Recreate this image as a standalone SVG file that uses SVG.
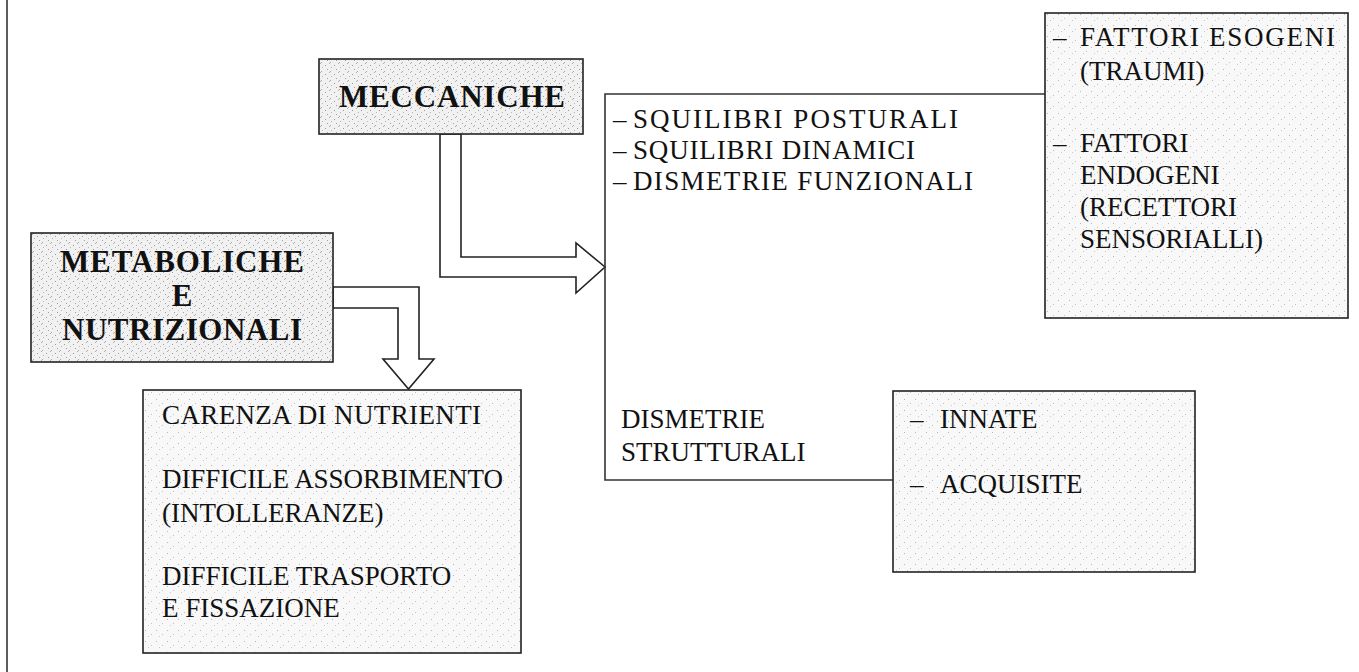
<svg xmlns="http://www.w3.org/2000/svg" width="1359" height="672" viewBox="0 0 1359 672">
<defs>
<pattern id="stipA" width="9" height="9" patternUnits="userSpaceOnUse">
<rect width="9" height="9" fill="#f1f1f1"/>
<rect x="1" y="2" width="1" height="1" fill="#9a9a9a"/>
<rect x="5" y="0" width="1" height="1" fill="#b0b0b0"/>
<rect x="3" y="6" width="1" height="1" fill="#a0a0a0"/>
<rect x="7" y="4" width="1" height="1" fill="#b8b8b8"/>
<rect x="6" y="8" width="1" height="1" fill="#a8a8a8"/>
</pattern>
<pattern id="stipB" width="11" height="11" patternUnits="userSpaceOnUse">
<rect width="11" height="11" fill="#f8f8f8"/>
<rect x="2" y="3" width="1" height="1" fill="#b5b5b5"/>
<rect x="8" y="7" width="1" height="1" fill="#c0c0c0"/>
<rect x="5" y="9" width="1" height="1" fill="#c8c8c8"/>
</pattern>
<style>
.box{stroke:#222;stroke-width:1.6}
.a{fill:url(#stipA)}
.b{fill:url(#stipB)}
.ln{fill:none;stroke:#333;stroke-width:1.6}
.arr{fill:#fff;stroke:#222;stroke-width:1.6;stroke-linejoin:miter}
.t{font-size:27px;fill:#111}
.h{font-size:31px;font-weight:bold;fill:#111;text-anchor:middle}
</style>
</defs>
<rect width="1359" height="672" fill="#fff"/>
<line x1="7" y1="0" x2="7" y2="672" stroke="#333" stroke-width="1.6"/>

<g id="connectors">
<polygon class="arr" points="440,134 440,277 576,277 576,293 605,267 576,243 576,257 461,257 461,134"/>
<polygon class="arr" points="333,287 419,287 419,359 434,359 408.5,389 383,359 398,359 398,308 333,308"/>
<polyline class="ln" points="1045,94 605,94 605,480 893,480"/>
</g>

<g font-family="Liberation Serif, Times New Roman, serif">
<g id="meccaniche">
<rect class="box a" x="319" y="59" width="264" height="75"/>
<text class="h" x="452" y="107" textLength="226">MECCANICHE</text>
</g>

<g id="metaboliche">
<rect class="box a" x="31" y="233" width="302" height="129"/>
<text class="h" x="182" y="272" textLength="244">METABOLICHE</text>
<text class="h" x="182" y="306">E</text>
<text class="h" x="182" y="340" textLength="240">NUTRIZIONALI</text>
</g>

<g id="nutrienti">
<rect class="box b" x="143" y="390" width="378" height="263"/>
<text class="t" x="162" y="424" textLength="319">CARENZA DI NUTRIENTI</text>
<text class="t" x="162" y="488" textLength="341">DIFFICILE ASSORBIMENTO</text>
<text class="t" x="162" y="522">(INTOLLERANZE)</text>
<text class="t" x="162" y="585">DIFFICILE TRASPORTO</text>
<text class="t" x="162" y="617">E FISSAZIONE</text>
</g>

<g id="squilibri">
<text class="t" x="613" y="128">–</text>
<text class="t" x="633" y="128" textLength="325">SQUILIBRI POSTURALI</text>
<text class="t" x="613" y="159">–</text>
<text class="t" x="633" y="159" textLength="282">SQUILIBRI DINAMICI</text>
<text class="t" x="613" y="190">–</text>
<text class="t" x="633" y="190" textLength="340">DISMETRIE FUNZIONALI</text>
<text class="t" x="621" y="428">DISMETRIE</text>
<text class="t" x="621" y="461">STRUTTURALI</text>
</g>

<g id="fattori">
<rect class="box b" x="1045" y="13" width="303" height="305"/>
<text class="t" x="1053" y="46">–</text>
<text class="t" x="1080" y="46" textLength="255">FATTORI ESOGENI</text>
<text class="t" x="1080" y="80">(TRAUMI)</text>
<text class="t" x="1053" y="152">–</text>
<text class="t" x="1080" y="152">FATTORI</text>
<text class="t" x="1080" y="184">ENDOGENI</text>
<text class="t" x="1080" y="216">(RECETTORI</text>
<text class="t" x="1080" y="248">SENSORIALLI)</text>
</g>

<g id="innate">
<rect class="box b" x="893" y="391" width="302" height="181"/>
<text class="t" x="910" y="428">–</text>
<text class="t" x="940" y="428">INNATE</text>
<text class="t" x="910" y="493">–</text>
<text class="t" x="940" y="493">ACQUISITE</text>
</g>
</g>
</svg>
